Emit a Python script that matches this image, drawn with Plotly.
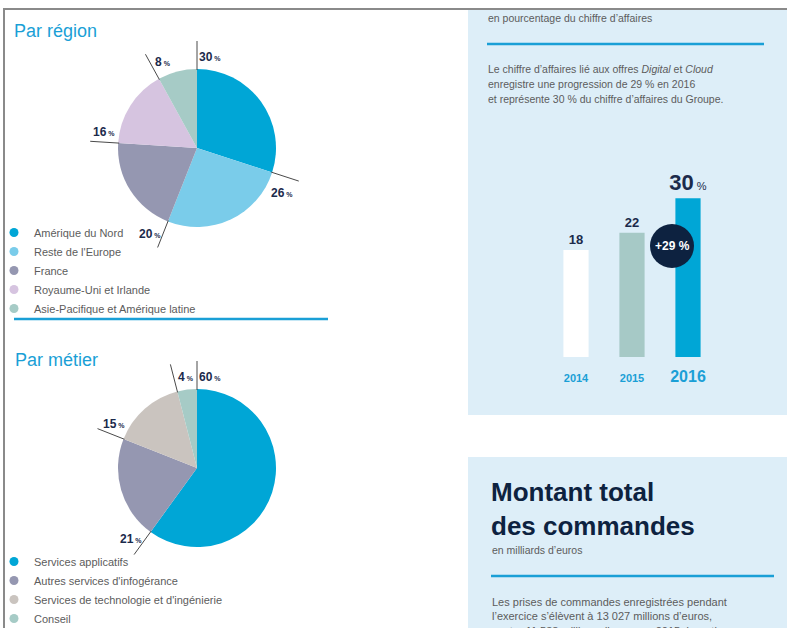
import math
import plotly.graph_objects as go

# --- data ---
region_labels = ["Amérique du Nord", "Reste de l'Europe", "France",
                 "Royaume-Uni et Irlande", "Asie-Pacifique et Amérique latine"]
region_share = [30, 26, 20, 16, 8]
region_colors = ["#00a6d6", "#7accea", "#9597b1", "#d6c4e0", "#a6cbc6"]

metier_labels = ["Services applicatifs", "Autres services d'infogérance",
                 "Services de technologie et d'ingénierie", "Conseil"]
metier_share = [60, 21, 15, 4]
metier_colors = ["#00a6d6", "#9597b1", "#cac4bf", "#a6cbc6"]

digital_years = ["2014", "2015", "2016"]
digital_share = [18, 22, 30]
digital_colors = ["#ffffff", "#a6c9c6", "#00a6d6"]
digital_growth = "+29 %"

W, H = 787, 628
NAVY = "#0d2240"
LABEL = "#1b2a4b"
BLUE = "#1a9fd6"
GREY = "#5c5c5c"
PANEL = "#ddeef8"
FONT = "Liberation Sans, Arial, sans-serif"


def fx(p):
    return p / W


def fy(p):
    return 1 - p / H


fig = go.Figure()

# pies
PIE_R = 79
LINE_R = 107
pies = [
    (region_labels, region_share, region_colors, (197, 148), "legend"),
    (metier_labels, metier_share, metier_colors, (197, 468), "legend2"),
]

shapes = []
annotations = []

for labels, vals, cols, (cx, cy), leg in pies:
    fig.add_trace(go.Pie(
        labels=labels, values=vals, sort=False, direction="clockwise",
        rotation=0, textinfo="none", showlegend=False,
        marker=dict(colors=cols, line=dict(width=0)),
        domain=dict(x=[fx(cx - PIE_R), fx(cx + PIE_R)],
                    y=[fy(cy + PIE_R), fy(cy - PIE_R)]),
    ))
    total = sum(vals)
    start = 0
    for v in vals:
        a = math.radians(start / total * 360)
        shapes.append(dict(
            type="line", xref="paper", yref="paper",
            x0=fx(cx + (PIE_R - 1) * math.sin(a)), y0=fy(cy - (PIE_R - 1) * math.cos(a)),
            x1=fx(cx + LINE_R * math.sin(a)), y1=fy(cy - LINE_R * math.cos(a)),
            line=dict(color="#4a4a4a", width=1),
        ))
        la = a + math.radians(8)
        annotations.append(dict(
            xref="paper", yref="paper",
            x=fx(cx + 95 * math.sin(la)), y=fy(cy - 95 * math.cos(la) + 3),
            text=f"<b>{v}</b><span style='font-size:7px'> <b>%</b></span>",
            showarrow=False, font=dict(size=12, color=LABEL, family=FONT),
            xanchor="center", yanchor="middle",
        ))
        start += v
    # circle markers for legend
    for lab, col in zip(labels, cols):
        fig.add_trace(go.Scatter(
            x=[None], y=[None], xaxis="x2", yaxis="y2", mode="markers",
            name=lab, legend=leg,
            marker=dict(color=col, size=9, symbol="circle"),
        ))

# bars
BAR_FLOOR = -6.7
fig.add_trace(go.Bar(
    x=digital_years, y=[v - BAR_FLOOR for v in digital_share], base=BAR_FLOOR,
    marker=dict(color=digital_colors, line=dict(width=0)),
    width=0.45, showlegend=False,
    text=[f"<b>{v}</b>" for v in digital_share[:-1]]
         + [f"<b>{digital_share[-1]}</b><span style='font-size:11px'> %</span>"],
    textposition="outside", constraintext="none", cliponaxis=False,
    outsidetextfont=dict(size=[13, 13, 22], color=LABEL, family=FONT),
))

legend_style = dict(
    font=dict(size=11, color=GREY, family=FONT),
    bgcolor="rgba(0,0,0,0)", tracegroupgap=0, itemwidth=30,
    itemclick=False, itemdoubleclick=False,
    xanchor="left", yanchor="top",
)

fig.update_layout(
    width=W, height=H,
    margin=dict(l=0, r=0, t=0, b=0, autoexpand=False),
    paper_bgcolor="white", plot_bgcolor="rgba(0,0,0,0)",
    font=dict(family=FONT, color=GREY),
    xaxis=dict(
        domain=[fx(548), fx(716)], range=[-0.5, 2.5], type="category",
        tickvals=digital_years,
        ticktext=["<b>2014</b>", "<b>2015</b>",
                  "<span style='font-size:16px'><b>2016</b></span>"],
        tickfont=dict(size=11, color=BLUE, family=FONT),
        ticks="outside", ticklen=11, tickcolor="rgba(0,0,0,0)",
        showline=False, showgrid=False, zeroline=False, fixedrange=True,
    ),
    yaxis=dict(
        domain=[fy(357), fy(170)], range=[BAR_FLOOR, 36.5],
        visible=False, fixedrange=True,
    ),
    xaxis2=dict(visible=False, domain=[0, 0.01]),
    yaxis2=dict(visible=False, domain=[0, 0.01]),
    legend=dict(x=fx(-6), y=fy(218), **legend_style),
    legend2=dict(x=fx(-6), y=fy(547), **legend_style),
)

# panels, frame and rules
shapes = [
    dict(type="rect", xref="paper", yref="paper", layer="below",
         x0=fx(468), x1=1, y0=fy(415), y1=fy(10),
         fillcolor=PANEL, line=dict(width=0)),
    dict(type="rect", xref="paper", yref="paper", layer="below",
         x0=fx(468), x1=1, y0=0, y1=fy(457),
         fillcolor=PANEL, line=dict(width=0)),
    dict(type="line", xref="paper", yref="paper",
         x0=fx(3), x1=1, y0=fy(9), y1=fy(9),
         line=dict(color="#8a8a8a", width=2)),
    dict(type="line", xref="paper", yref="paper",
         x0=fx(4), x1=fx(4), y0=fy(9), y1=0,
         line=dict(color="#8a8a8a", width=2)),
    dict(type="line", xref="paper", yref="paper",
         x0=fx(14), x1=fx(328), y0=fy(319), y1=fy(319),
         line=dict(color=BLUE, width=2.5)),
    dict(type="line", xref="paper", yref="paper",
         x0=fx(487), x1=fx(764), y0=fy(44), y1=fy(44),
         line=dict(color=BLUE, width=2.5)),
    dict(type="line", xref="paper", yref="paper",
         x0=fx(491), x1=fx(774), y0=fy(576), y1=fy(576),
         line=dict(color=BLUE, width=2.5)),
    dict(type="circle", xref="paper", yref="paper",
         x0=fx(650), x1=fx(694), y0=fy(268), y1=fy(224),
         fillcolor=NAVY, line=dict(width=0)),
] + shapes


def note(text, x, y, size, color=GREY, anchor="left", yanchor="middle"):
    annotations.append(dict(
        xref="paper", yref="paper", x=fx(x), y=fy(y), text=text,
        showarrow=False, xanchor=anchor, yanchor=yanchor, align="left",
        font=dict(size=size, color=color, family=FONT),
    ))


note("Par région", 12, 31, 18, BLUE)
note("Par métier", 13, 360, 18, BLUE)

note("en pourcentage du chiffre d’affaires", 486, 18, 10.5)
note("Le chiffre d’affaires lié aux offres <i>Digital</i> et <i>Cloud</i>", 486, 69, 10.5)
note("enregistre une progression de 29 % en 2016", 486, 84, 10.5)
note("et représente 30 % du chiffre d’affaires du Groupe.", 486, 99, 10.5)
note(f"<b>{digital_growth}</b>", 672, 246, 12, "white", "center")

note("<b>Montant total<br>des commandes</b>", 489, 509, 26, NAVY)
note("en milliards d’euros", 490, 550, 10.5)
note("Les prises de commandes enregistrées pendant<br>"
     "l’exercice s’élèvent à 13 027 millions d’euros,<br>"
     "contre 11 538 millions d’euros en 2015. Le ratio", 490, 594, 11,
     yanchor="top")

fig.update_layout(shapes=shapes, annotations=annotations)

fig.write_html("out.html", config={"displayModeBar": False},
               post_script="document.body.style.margin='0';"
                           "document.body.style.overflow='hidden';")
